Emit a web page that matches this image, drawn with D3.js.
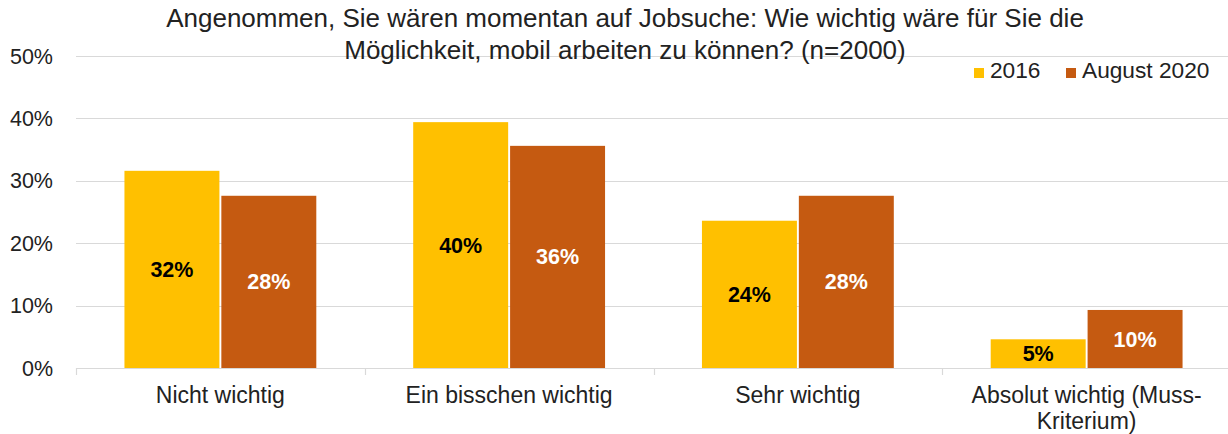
<!DOCTYPE html>
<html>
<head>
<meta charset="utf-8">
<script src="https://cdn.jsdelivr.net/npm/d3@7"></script>
<style>
  body { margin: 0; background: #fff; }
  text { font-family: "Liberation Sans", Arial, sans-serif; }
</style>
</head>
<body>
<svg width="1228" height="434"></svg>
<script>
var categories = ["Nicht wichtig", "Ein bisschen wichtig", "Sehr wichtig", "Absolut wichtig (Muss-|Kriterium)"];
var seriesNames = ["2016", "August 2020"];
var values2016 = [31.6, 39.4, 23.6, 4.6];
var values2020 = [27.6, 35.6, 27.6, 9.3];
var labels2016 = ["32%", "40%", "24%", "5%"];
var labels2020 = ["28%", "36%", "28%", "10%"];
var yTicks = [0, 10, 20, 30, 40, 50];
var colors = ["#FFC000", "#C55A11"];
var labelColors = ["#000", "#fff"];

var svg = d3.select("svg"),
    width = +svg.attr("width"),
    height = +svg.attr("height");

var margin = {left: 76, right: -3, top: 56, bottom: 66};

var x = d3.scaleBand()
    .domain(categories)
    .range([margin.left, width - margin.right])
    .paddingInner(0).paddingOuter(0);

var x1 = d3.scaleBand()
    .domain(seriesNames)
    .range([0, x.bandwidth()])
    .paddingInner(0.02)
    .paddingOuter(0.5);

var y = d3.scaleLinear()
    .domain([0, 50])
    .range([height - margin.bottom, margin.top]);

// gridlines
svg.append("g")
    .selectAll("line")
    .data(yTicks)
    .enter().append("line")
    .attr("x1", margin.left)
    .attr("x2", width)
    .attr("y1", function(d) { return Math.round(y(d)) + 0.5; })
    .attr("y2", function(d) { return Math.round(y(d)) + 0.5; })
    .attr("stroke", "#d9d9d9")
    .attr("stroke-width", 1.2);

// y tick labels
svg.append("g")
    .selectAll("text")
    .data(yTicks)
    .enter().append("text")
    .attr("x", 53)
    .attr("y", function(d) { return y(d); })
    .attr("dy", "0.35em")
    .attr("text-anchor", "end")
    .attr("font-size", 21.5)
    .attr("fill", "#222")
    .text(function(d) { return d + "%"; });

// x tick marks at category boundaries
var bounds = categories.map(function(c) { return x(c); }).concat([x(categories[3]) + x.bandwidth()]);
svg.append("g")
    .selectAll("line")
    .data(bounds)
    .enter().append("line")
    .attr("x1", function(d) { return Math.round(d) + 0.5; })
    .attr("x2", function(d) { return Math.round(d) + 0.5; })
    .attr("y1", y(0))
    .attr("y2", y(0) + 7)
    .attr("stroke", "#d9d9d9")
    .attr("stroke-width", 1.2);

var rows = categories.map(function(c, i) {
  return {cat: c, vals: [values2016[i], values2020[i]], labels: [labels2016[i], labels2020[i]]};
});

var groups = svg.append("g")
    .selectAll("g")
    .data(rows)
    .enter().append("g")
    .attr("transform", function(d) { return "translate(" + x(d.cat) + ",0)"; });

groups.selectAll("rect")
    .data(function(d) { return d.vals.map(function(v, j) { return {v: v, j: j}; }); })
    .enter().append("rect")
    .attr("x", function(d) { return x1(seriesNames[d.j]); })
    .attr("y", function(d) { return y(d.v); })
    .attr("width", x1.bandwidth())
    .attr("height", function(d) { return y(0) - y(d.v); })
    .attr("fill", function(d) { return colors[d.j]; });

groups.selectAll("text")
    .data(function(d) { return d.vals.map(function(v, j) { return {v: v, j: j, label: d.labels[j]}; }); })
    .enter().append("text")
    .attr("x", function(d) { return x1(seriesNames[d.j]) + x1.bandwidth() / 2; })
    .attr("y", function(d) { return (y(d.v) + y(0)) / 2; })
    .attr("dy", "0.35em")
    .attr("text-anchor", "middle")
    .attr("font-size", 21.5)
    .attr("font-weight", "bold")
    .attr("fill", function(d) { return labelColors[d.j]; })
    .text(function(d) { return d.label; });

// category labels
var catText = svg.append("g")
    .selectAll("text")
    .data(categories)
    .enter().append("text")
    .attr("x", function(d) { return x(d) + x.bandwidth() / 2; })
    .attr("y", 403)
    .attr("text-anchor", "middle")
    .attr("font-size", 23)
    .attr("fill", "#222");

catText.selectAll("tspan")
    .data(function(d) { return d.split("|"); })
    .enter().append("tspan")
    .attr("x", function() { var p = this.parentNode.__data__; return x(p) + x.bandwidth() / 2; })
    .attr("dy", function(d, i) { return i === 0 ? 0 : 26; })
    .text(function(d) { return d; });

// title
var title = svg.append("text")
    .attr("text-anchor", "middle")
    .attr("font-size", 26)
    .attr("fill", "#222");
title.append("tspan").attr("x", 625).attr("y", 27)
    .text("Angenommen, Sie wären momentan auf Jobsuche: Wie wichtig wäre für Sie die");
title.append("tspan").attr("x", 625).attr("y", 59)
    .text("Möglichkeit, mobil arbeiten zu können? (n=2000)");

// legend
var legendX = [974, 1066];
var legend = svg.append("g")
    .selectAll("g")
    .data(seriesNames)
    .enter().append("g")
    .attr("transform", function(d, i) { return "translate(" + legendX[i] + ",78)"; });
legend.append("rect")
    .attr("x", 0).attr("y", -10)
    .attr("width", 10).attr("height", 10)
    .attr("fill", function(d, i) { return colors[i]; });
legend.append("text")
    .attr("x", 16)
    .attr("font-size", 22.7)
    .attr("fill", "#222")
    .text(function(d) { return d; });
</script>
</body>
</html>
